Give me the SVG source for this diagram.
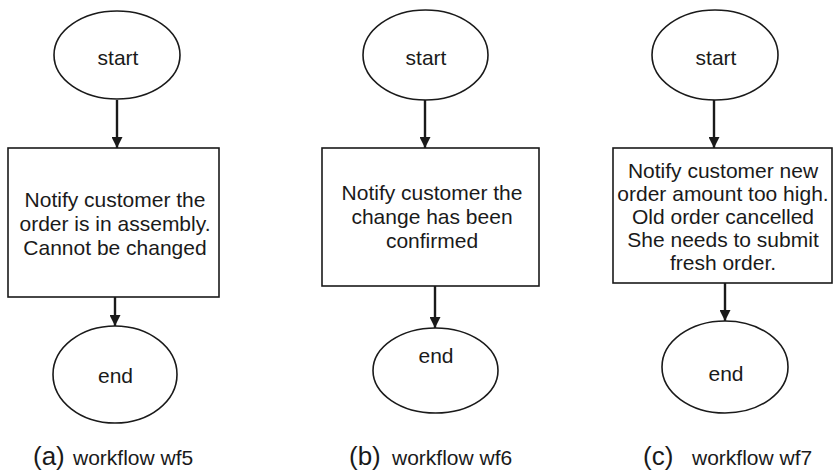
<svg xmlns="http://www.w3.org/2000/svg" width="833" height="470" viewBox="0 0 833 470">
  <defs>
    <marker id="arrow" viewBox="0 0 10 10" refX="10" refY="5" markerWidth="11" markerHeight="11" markerUnits="userSpaceOnUse" orient="auto">
      <path d="M0,0 L10,5 L0,10 Z" fill="#1a1a1a"/>
    </marker>
    <style>
      .shape { fill: #ffffff; stroke: #1a1a1a; stroke-width: 1.6; }
      .edge { fill: none; stroke: #1a1a1a; stroke-width: 2.4; marker-end: url(#arrow); }
      text { font-family: "Liberation Sans", Arial, sans-serif; fill: #1a1a1a; }
      .lbl { font-size: 21px; text-anchor: middle; }
      .cap { font-size: 21px; }
      .cap-key { font-size: 26px; }
    </style>
  </defs>
  <rect width="833" height="470" fill="#ffffff"/>

  <!-- connectors -->
  <g id="connectors">
    <line class="edge" x1="117" y1="100" x2="117" y2="148"/>
    <line class="edge" x1="115" y1="297" x2="115" y2="326"/>
    <line class="edge" x1="425" y1="100" x2="425" y2="148"/>
    <line class="edge" x1="435" y1="286" x2="435" y2="328"/>
    <line class="edge" x1="714" y1="100" x2="714" y2="148"/>
    <line class="edge" x1="725" y1="283" x2="725" y2="321"/>
  </g>

  <!-- workflow wf5 -->
  <g id="wf5-start">
    <ellipse class="shape" cx="117" cy="55" rx="63" ry="44"/>
    <text class="lbl" x="118" y="65">start</text>
  </g>
  <g id="wf5-task">
    <rect class="shape" x="8" y="148" width="211" height="149"/>
    <text class="lbl" x="115" y="207">Notify customer the</text>
    <text class="lbl" x="115" y="231">order is in assembly.</text>
    <text class="lbl" x="115" y="255">Cannot be changed</text>
  </g>
  <g id="wf5-end">
    <ellipse class="shape" cx="115" cy="374.5" rx="62" ry="48.5"/>
    <text class="lbl" x="115.5" y="383">end</text>
  </g>
  <text y="465"><tspan class="cap-key" x="33">(a)</tspan><tspan class="cap" x="73">workflow wf5</tspan></text>

  <!-- workflow wf6 -->
  <g id="wf6-start">
    <ellipse class="shape" cx="425.5" cy="55" rx="62.5" ry="45"/>
    <text class="lbl" x="426" y="65">start</text>
  </g>
  <g id="wf6-task">
    <rect class="shape" x="322" y="148" width="217" height="138"/>
    <text class="lbl" x="432" y="200">Notify customer the</text>
    <text class="lbl" x="432" y="224">change has been</text>
    <text class="lbl" x="432" y="248">confirmed</text>
  </g>
  <g id="wf6-end">
    <ellipse class="shape" cx="435.5" cy="370.5" rx="62.5" ry="42.5"/>
    <text class="lbl" x="436" y="363">end</text>
  </g>
  <text y="465"><tspan class="cap-key" x="349">(b)</tspan><tspan class="cap" x="392">workflow wf6</tspan></text>

  <!-- workflow wf7 -->
  <g id="wf7-start">
    <ellipse class="shape" cx="715" cy="55" rx="63" ry="45"/>
    <text class="lbl" x="716" y="65">start</text>
  </g>
  <g id="wf7-task">
    <rect class="shape" x="613" y="148" width="219" height="135"/>
    <text class="lbl" x="723" y="178">Notify customer new</text>
    <text class="lbl" x="723" y="201">order amount too high.</text>
    <text class="lbl" x="723" y="224">Old order cancelled</text>
    <text class="lbl" x="723" y="247">She needs to submit</text>
    <text class="lbl" x="723" y="270">fresh order.</text>
  </g>
  <g id="wf7-end">
    <ellipse class="shape" cx="725" cy="367" rx="63" ry="46"/>
    <text class="lbl" x="726" y="381">end</text>
  </g>
  <text y="465"><tspan class="cap-key" x="643">(c)</tspan><tspan class="cap" x="692">workflow wf7</tspan></text>
</svg>
